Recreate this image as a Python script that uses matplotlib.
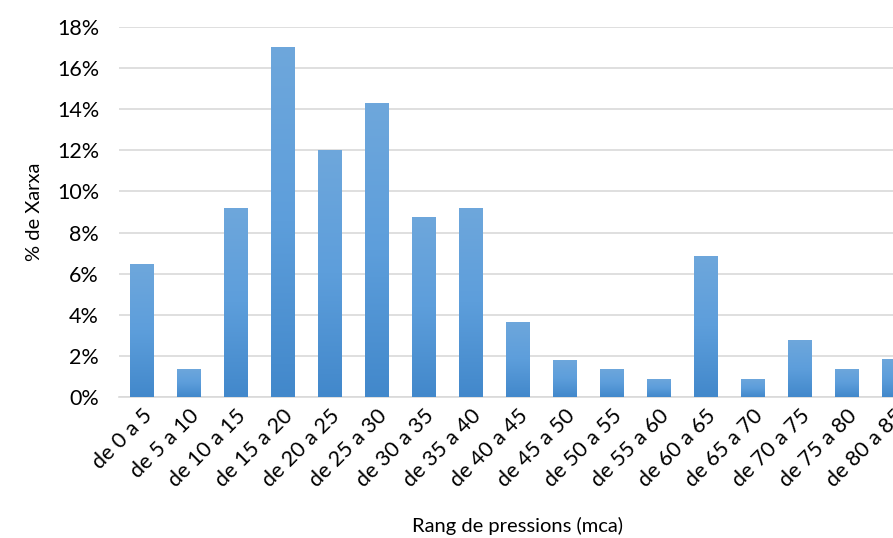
import matplotlib
matplotlib.use("Agg")
import matplotlib.pyplot as plt
import numpy as np
from matplotlib.ticker import PercentFormatter
from matplotlib.colors import LinearSegmentedColormap

categories = ["de 0 a 5", "de 5 a 10", "de 10 a 15", "de 15 a 20", "de 20 a 25",
              "de 25 a 30", "de 30 a 35", "de 35 a 40", "de 40 a 45", "de 45 a 50",
              "de 50 a 55", "de 55 a 60", "de 60 a 65", "de 65 a 70", "de 70 a 75",
              "de 75 a 80", "de 80 a 85"]
values = [6.45, 1.37, 9.2, 17.05, 12.0, 14.3, 8.75, 9.2, 3.65, 1.82,
          1.38, 0.9, 6.86, 0.9, 2.77, 1.38, 1.85]
y_ticks = [0, 2, 4, 6, 8, 10, 12, 14, 16, 18]

plt.rcParams['font.family'] = ['Lato', 'DejaVu Sans']

fig = plt.figure(figsize=(8.93, 5.38), dpi=100)
ax = fig.add_axes([118.5 / 893, 141 / 538, 799 / 893, 370 / 538])

x = np.arange(len(categories))
bars = ax.bar(x, values, width=0.49, color='#5b9bd5', zorder=3)

grad = np.linspace(0, 1, 256).reshape(-1, 1)
cmap = LinearSegmentedColormap.from_list('g', ['#4288cb', '#5d9edb', '#6ea7dc'])
for b in bars:
    x0, y0 = b.get_x(), b.get_y()
    w, h = b.get_width(), b.get_height()
    im = ax.imshow(grad, extent=[x0, x0 + w, y0, y0 + h], origin='lower',
                   cmap=cmap, aspect='auto', zorder=4)
    im.set_clip_path(b)

ax.set_xlim(-0.5, len(categories) - 0.5)
ax.set_ylim(0, 18)
ax.set_yticks(y_ticks)
ax.yaxis.set_major_formatter(PercentFormatter(decimals=0))
ax.set_xticks(x)
ax.set_xticklabels(categories, rotation=45, ha='right', rotation_mode='anchor')

ax.grid(axis='y', color='#d9d9d9', linewidth=1.2, zorder=0)
ax.set_axisbelow(True)
for s in ['left', 'right', 'top']:
    ax.spines[s].set_visible(False)
ax.spines['bottom'].set_color('#d9d9d9')
ax.spines['bottom'].set_linewidth(1.2)
ax.tick_params(axis='both', length=0, labelsize=15.5, colors='#000000')
ax.tick_params(axis='y', pad=14)
ax.tick_params(axis='x', pad=6)

ax.set_ylabel('% de Xarxa', fontsize=14.5, labelpad=10)
ax.set_xlabel('Rang de pressions (mca)', fontsize=14.5, labelpad=19)

fig.savefig('out.png', dpi=100)
